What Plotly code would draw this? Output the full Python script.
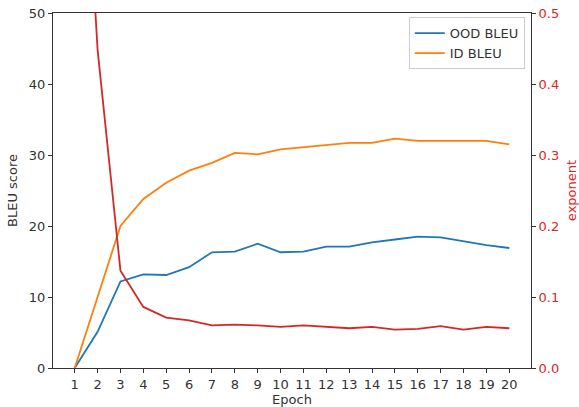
import plotly.graph_objects as go

epochs = list(range(1, 21))
ood_bleu = [0, 5.1, 12.2, 13.2, 13.1, 14.2, 16.3, 16.4, 17.5, 16.3,
            16.4, 17.1, 17.1, 17.7, 18.1, 18.5, 18.4, 17.8, 17.3, 16.9]
id_bleu = [0, 10.0, 20.0, 23.8, 26.1, 27.8, 28.9, 30.3, 30.1, 30.8,
           31.1, 31.3, 31.7, 31.7, 32.3, 32.0, 32.0, 32.0, 32.0, 31.5]
exponent = [1.0, 0.448, 0.137, 0.086, 0.071, 0.067, 0.060, 0.061, 0.060, 0.058,
            0.060, 0.058, 0.056, 0.058, 0.054, 0.055, 0.059, 0.054, 0.058, 0.056]

BLUE = "#1f77b4"
ORANGE = "#ff7f0e"
RED = "#d62728"
FONT = "DejaVu Sans"

fig = go.Figure()
fig.add_trace(go.Scatter(x=epochs, y=ood_bleu, mode="lines", name="OOD BLEU",
                         line=dict(color=BLUE, width=1.8)))
fig.add_trace(go.Scatter(x=epochs, y=id_bleu, mode="lines", name="ID BLEU",
                         line=dict(color=ORANGE, width=1.8)))
fig.add_trace(go.Scatter(x=epochs, y=exponent, mode="lines", name="exponent",
                         line=dict(color=RED, width=1.8), yaxis="y2", showlegend=False))

fig.update_layout(
    width=579, height=407,
    margin=dict(l=53, r=48, t=13, b=39),
    paper_bgcolor="white", plot_bgcolor="white",
    font=dict(family=FONT, size=13, color="#333"),
    xaxis=dict(range=[0.05, 20.95], tickvals=epochs, showgrid=False, zeroline=False,
               showline=True, linecolor="#333", linewidth=1, mirror=True,
               ticks="outside", ticklen=4, tickcolor="#333", automargin=False,
               title=dict(text="Epoch", standoff=10, font=dict(size=13))),
    yaxis=dict(range=[0, 50], dtick=10, showgrid=False, zeroline=False,
               showline=True, linecolor="#333", linewidth=1,
               ticks="outside", ticklen=4, tickcolor="#333", automargin=False,
               title=dict(text="BLEU score", standoff=8, font=dict(size=13))),
    yaxis2=dict(range=[0, 0.5], dtick=0.1, tickformat=".1f", overlaying="y", side="right",
                showgrid=False, zeroline=False,
                showline=True, linecolor="#333", linewidth=1,
                ticks="outside", ticklen=4, tickcolor="#333", automargin=False,
                tickfont=dict(color=RED, size=13),
                title=dict(text="exponent", standoff=10, font=dict(color=RED, size=13))),
    legend=dict(x=0.987, y=0.988, xanchor="right", yanchor="top",
                bgcolor="rgba(255,255,255,0.8)", bordercolor="#ccc", borderwidth=1,
                font=dict(size=13, color="#333")),
    showlegend=True,
)

fig.write_html("out.html")
